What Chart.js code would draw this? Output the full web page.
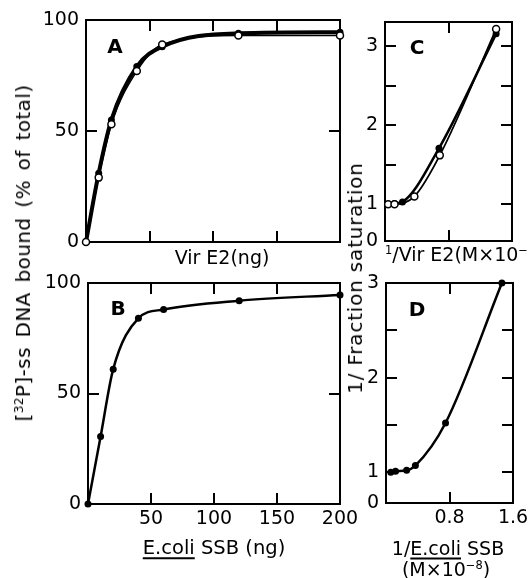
<!DOCTYPE html>
<html>
<head>
<meta charset="utf-8">
<script src="https://cdn.jsdelivr.net/npm/chart.js@4/dist/chart.umd.min.js"></script>
<style>
  html, body { margin: 0; padding: 0; background: #fff; width: 528px; height: 578px; overflow: hidden; }
  #wrap { position: relative; width: 528px; height: 578px; font-family: "DejaVu Sans", sans-serif; color: #000; }
  canvas { position: absolute; left: 0; top: 0; }
  .t { position: absolute; white-space: nowrap; line-height: 1; font-size: 19px; transform: translate(-50%, -50%); }
  .left { transform: translate(0, -50%); }
  .panel { font-weight: bold; font-size: 20px; }
  .u { text-decoration: underline; text-decoration-thickness: 1.5px; text-underline-offset: 3px; }
  sup { font-size: 0.6em; vertical-align: 0.55em; line-height: 0; }
</style>
</head>
<body>
<div id="wrap">
  <canvas id="panelA" width="528" height="578"></canvas>
  <canvas id="panelB" width="528" height="578"></canvas>
  <canvas id="panelC" width="528" height="578"></canvas>
  <canvas id="panelD" width="528" height="578"></canvas>

  <div class="t" style="left:23px; top:253px; font-size:20px; word-spacing:3px; letter-spacing:0.4px; transform:translate(-50%,-50%) rotate(-90deg);">[<sup>32</sup>P]-ss DNA bound (% of total)</div>
  <div class="t" style="left:355px; top:278px; font-size:20px; letter-spacing:0.8px; transform:translate(-50%,-50%) rotate(-90deg);">1/ Fraction saturation</div>

  <div class="t" style="left:222px; top:257px;">Vir E2(ng)</div>
  <div class="t" style="left:214px; top:548px; font-size:19.5px;"><span class="u">E.coli</span> SSB (ng)</div>
  <div class="t left" style="left:385px; top:254px;"><sup>1</sup>/Vir E2(M×10<sup>−8</sup>)</div>
  <div class="t" style="left:448px; top:548px; font-size:19px;">1/<span class="u">E.coli</span> SSB</div>
  <div class="t" style="left:446px; top:569px; font-size:19px;">(M×10<sup>−8</sup>)</div>

  <div class="t panel" style="left:115px; top:46px;">A</div>
  <div class="t panel" style="left:118px; top:308px;">B</div>
  <div class="t panel" style="left:417px; top:47px;">C</div>
  <div class="t panel" style="left:417px; top:309px;">D</div>
</div>

<script>
// Binding titrations: amount of protein added (ng)
const ngAmounts = [0, 10, 20, 40, 60, 120, 200];
const virE2BoundFilled = [0, 31, 55, 79, 88, 94, 94.5];
const virE2BoundOpen = [0, 29, 53, 77, 89, 93, 93];
const ssbBound = [0, 30.5, 61, 84, 88, 92, 94.6];

// Double-reciprocal replots
const virE2RecipFilledX = [0.04, 0.12, 0.22, 0.68, 1.40];
const virE2RecipFilledY = [1.0, 1.01, 1.03, 1.71, 3.16];
const virE2RecipOpenX = [0.04, 0.12, 0.37, 0.69, 1.40];
const virE2RecipOpenY = [1.0, 1.0, 1.10, 1.62, 3.22];
const ssbRecipX = [0.06, 0.12, 0.26, 0.37, 0.75, 1.46];
const ssbRecipY = [1.0, 1.01, 1.02, 1.07, 1.52, 3.0];

// Tick values
const boundTicks = [0, 50, 100];
const ngTicks = [0, 50, 100, 150, 200];
const recipTicks = [0, 0.8, 1.6];
const saturationTicks = [1, 1.5, 2, 2.5, 3];

const FONT = { family: '"DejaVu Sans", sans-serif', size: 19 };
const Y_AXIS_W = 50;   // fixed room for y tick labels
const X_AXIS_H = 36;   // fixed room for x tick labels

// Closed frame with short inward tick marks on all four sides
const frameTicks = {
  id: 'frameTicks',
  beforeDatasetsDraw(chart) {
    const { ctx, chartArea: a, scales: { x, y } } = chart;
    const L = 11, eps = 1e-6;
    ctx.save();
    ctx.strokeStyle = '#000';
    ctx.lineWidth = 2;
    ctx.strokeRect(a.left, a.top, a.right - a.left, a.bottom - a.top);
    ctx.beginPath();
    x.ticks.forEach(t => {
      if (t.value <= x.min + eps || t.value >= x.max - eps) return;
      const px = Math.round(x.getPixelForValue(t.value));
      ctx.moveTo(px, a.bottom); ctx.lineTo(px, a.bottom - L);
      ctx.moveTo(px, a.top); ctx.lineTo(px, a.top + L);
    });
    y.ticks.forEach(t => {
      if (t.value <= y.min + eps || t.value >= y.max - eps) return;
      const py = Math.round(y.getPixelForValue(t.value));
      ctx.moveTo(a.left, py); ctx.lineTo(a.left + L, py);
      ctx.moveTo(a.right, py); ctx.lineTo(a.right - L, py);
    });
    ctx.stroke();
    ctx.restore();
  }
};

function axis(min, max, tickValues, label, pad, horizontal) {
  return {
    type: 'linear', min, max,
    afterBuildTicks: s => { s.ticks = tickValues.map(v => ({ value: v })); },
    afterFit: s => {
      if (horizontal) s.height = X_AXIS_H; else s.width = Y_AXIS_W;
      s.paddingLeft = s.paddingRight = s.paddingTop = s.paddingBottom = 0;
    },
    ticks: { callback: label, font: FONT, color: '#000', padding: pad, autoSkip: false, maxRotation: 0, minRotation: 0 },
    grid: { display: false, drawTicks: false },
    border: { display: false }
  };
}

function filledSeries(xs, ys, width) {
  return {
    data: xs.map((x, i) => ({ x, y: ys[i] })),
    borderColor: '#000', borderWidth: width,
    pointRadius: 3.5, pointBackgroundColor: '#000', pointBorderWidth: 0, pointHoverRadius: 3.5,
    cubicInterpolationMode: 'monotone', clip: false
  };
}
function openSeries(xs, ys, width) {
  return {
    data: xs.map((x, i) => ({ x, y: ys[i] })),
    borderColor: '#000', borderWidth: width,
    pointRadius: 3.5, pointBackgroundColor: '#fff', pointBorderColor: '#000', pointBorderWidth: 1.5,
    cubicInterpolationMode: 'monotone', clip: false
  };
}

// box = [left, top, right, bottom] of the plotting frame on the page
function panel(id, box, xAxis, yAxis, datasets) {
  new Chart(document.getElementById(id), {
    type: 'line',
    data: { datasets },
    options: {
      responsive: false, animation: false, events: [],
      layout: { padding: { left: box[0] - Y_AXIS_W, top: box[1], right: 528 - box[2], bottom: 578 - box[3] - X_AXIS_H } },
      plugins: { legend: { display: false }, tooltip: { enabled: false } },
      scales: { x: xAxis, y: yAxis }
    },
    plugins: [frameTicks]
  });
}

const noLabel = () => '';
const ngLabel = v => (v === 0 ? '' : String(v));
const pctLabel = v => String(v);
const recipLabel = v => (v === 0 ? '' : v.toFixed(1));
const satLabel = min => v => (v === min ? '0' : (Number.isInteger(v) ? String(v) : ''));

// A: VirE2 binding
panel('panelA', [86, 20, 340, 242],
  axis(0, 200, ngTicks, noLabel, 6, true),
  axis(0, 100, boundTicks, pctLabel, 7, false),
  [openSeries(ngAmounts, virE2BoundOpen, 1.5), filledSeries(ngAmounts, virE2BoundFilled, 4)]);

// B: E. coli SSB binding
panel('panelB', [88, 283, 340, 504],
  axis(0, 200, ngTicks, ngLabel, 4, true),
  axis(0, 100, boundTicks, pctLabel, 7, false),
  [filledSeries(ngAmounts, ssbBound, 2.5)]);

// C: VirE2 reciprocal plot
const cMin = 0.535;
panel('panelC', [385, 22, 512, 241],
  axis(0, 1.6, recipTicks, noLabel, 6, true),
  axis(cMin, 3.31, [cMin, ...saturationTicks], satLabel(cMin), 7, false),
  [openSeries(virE2RecipOpenX, virE2RecipOpenY, 1.8), filledSeries(virE2RecipFilledX, virE2RecipFilledY, 2.5)]);

// D: E. coli SSB reciprocal plot
const dMin = 0.674;
panel('panelD', [386, 283, 513, 503],
  axis(0, 1.6, recipTicks, recipLabel, 4, true),
  axis(dMin, 3.0, [dMin, ...saturationTicks], satLabel(dMin), 7, false),
  [filledSeries(ssbRecipX, ssbRecipY, 2.5)]);
</script>
</body>
</html>
